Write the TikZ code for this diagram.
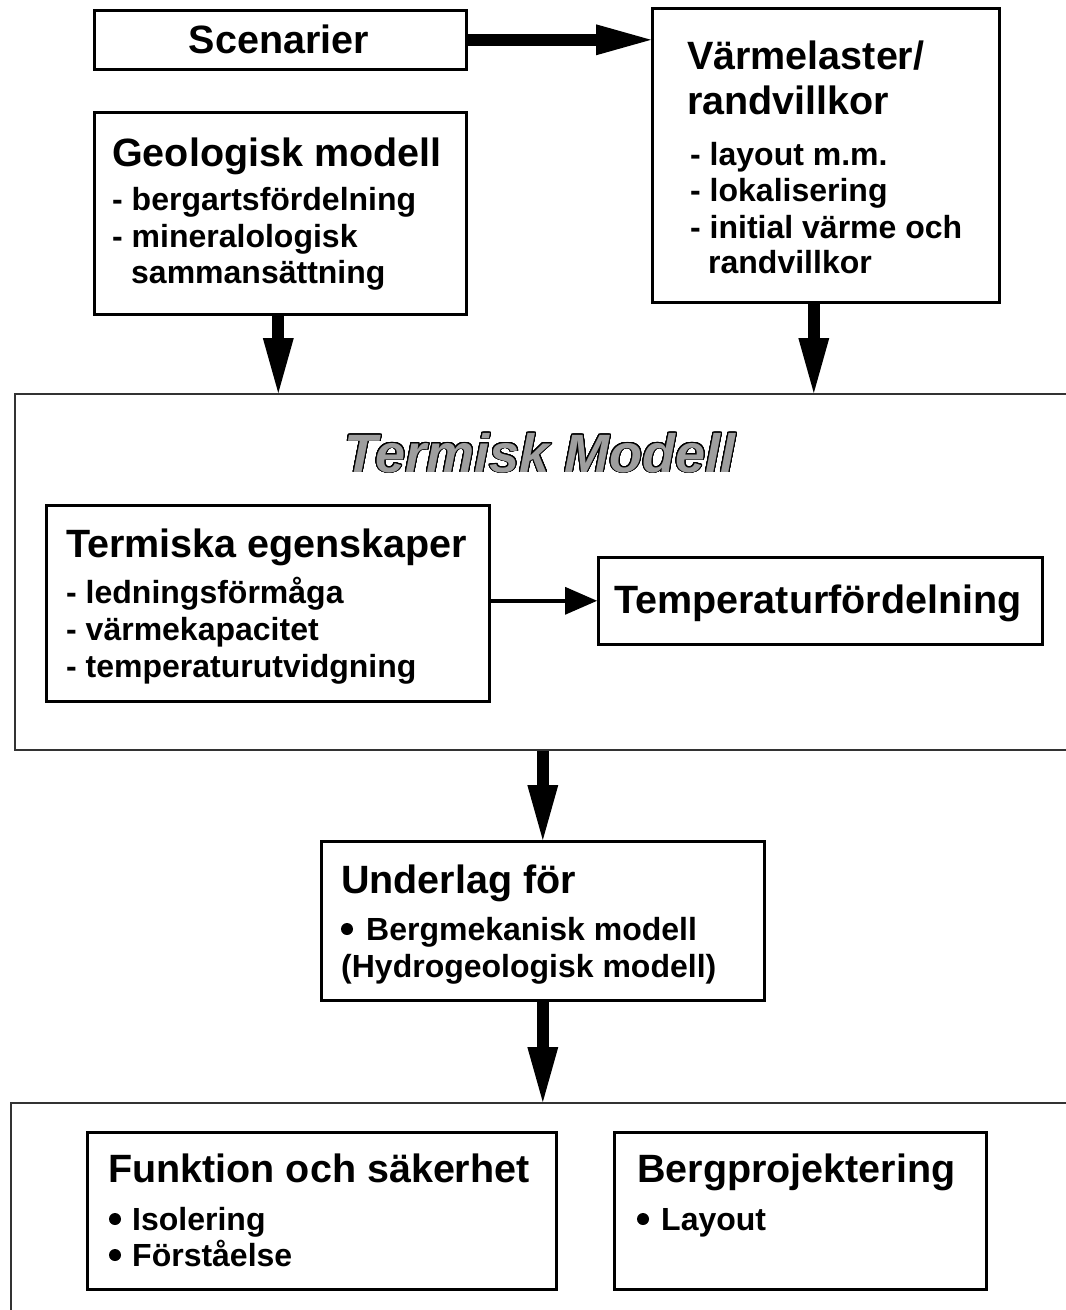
\documentclass[tikz,border=0pt]{standalone}
\usepackage{fontspec}
\setmainfont{Liberation Sans}
\usepackage{contour}
\contournumber{32}
\contourlength{0.85pt}
\usetikzlibrary{arrows.meta}

\tikzset{
  frame/.style={draw=black, line width=2.6pt, fill=white, inner sep=0pt, anchor=north west},
  group/.style={draw=black!80, line width=1.8pt, inner sep=0pt, anchor=north west},
  hd/.style={inner sep=0pt, anchor=base west, font=\fontsize{39.5}{44}\selectfont\bfseries},
  it/.style={inner sep=0pt, anchor=base west, font=\fontsize{32}{37}\selectfont\bfseries},
  dot/.style={fill=black},
  bigarrow/.style={line width=12pt, -{Triangle[length=55pt,width=31pt,line width=0pt]}},
  thinarrow/.style={line width=4pt, -{Triangle[length=32pt,width=28pt,line width=0pt]}},
}

\begin{document}
\begin{tikzpicture}[x=1pt,y=-1pt]
\useasboundingbox (0,0) rectangle (1066,1310);

% open group frames
\node[group, minimum width=1100pt, minimum height=356pt] (term) at (14,393) {};
\node[group, minimum width=1100pt, minimum height=260pt] (lower) at (10,1102) {};

% boxes
\node[frame, minimum width=372pt, minimum height=59pt]  (scen)   at (93,9) {};
\node[frame, minimum width=372pt, minimum height=202pt] (geo)    at (93,111) {};
\node[frame, minimum width=347pt, minimum height=294pt] (varme)  at (651,7) {};
\node[frame, minimum width=443pt, minimum height=196pt] (egensk) at (45,504) {};
\node[frame, minimum width=444pt, minimum height=87pt]  (temp)   at (597,556) {};
\node[frame, minimum width=443pt, minimum height=159pt] (under)  at (320,840) {};
\node[frame, minimum width=469pt, minimum height=157pt] (funk)   at (86,1131) {};
\node[frame, minimum width=372pt, minimum height=157pt] (berg)   at (613,1131) {};

% connectors
\draw[bigarrow] (scen.east) -- (scen.east -| varme.west);
\draw[bigarrow] ([xshift=-2pt]geo.south) -- ([xshift=-2pt]geo.south |- term.north);
\draw[bigarrow] ([xshift=-12pt]varme.south) -- ([xshift=-12pt]varme.south |- term.north);
\draw[thinarrow] (temp.west -| egensk.east) -- (temp.west);
\draw[bigarrow] (term.south -| under.north) -- (under.north);
\draw[bigarrow] (under.south) -- (under.south |- lower.north);

% group title: grey letters with a thin black outline
\node[inner sep=0pt, anchor=base, text=black!38, font=\fontsize{54}{60}\selectfont\bfseries\itshape] (termtitle) at (540,472)
  {\contour{black}{Termisk Modell}};

% texts
\node[hd, anchor=base] (scenT) at (279,53) {Scenarier};

\node[hd] (geoT)  at (112,166) {Geologisk modell};
\node[it] (geoA)  at (112,210) {- bergartsfördelning};
\node[it] (geoB)  at (112,247) {- mineralologisk};
\node[it] (geoC)  at (131,283) {sammansättning};

\node[hd] (varT1) at (687,69) {Värmelaster/};
\node[hd] (varT2) at (687,114) {randvillkor};
\node[it] (varA)  at (690,165) {- layout m.m.};
\node[it] (varB)  at (690,201) {- lokalisering};
\node[it] (varC)  at (690,238) {- initial värme och};
\node[it] (varD)  at (708,273) {randvillkor};

\node[hd] (egT)   at (66,557) {Termiska egenskaper};
\node[it] (egA)   at (66,603) {- ledningsförmåga};
\node[it] (egB)   at (66,640) {- värmekapacitet};
\node[it] (egC)   at (66,677) {- temperaturutvidgning};

\node[hd] (tempT) at (614,613) {Temperaturfördelning};

\node[hd] (undT)  at (341,893) {Underlag för};
\fill[dot] (347,929) circle (6);
\node[it] (undA)  at (366,940) {Bergmekanisk modell};
\node[it] (undB)  at (341,977) {(Hydrogeologisk modell)};

\node[hd] (funT)  at (108,1182) {Funktion och säkerhet};
\fill[dot] (115,1219) circle (6);
\node[it] (funA)  at (132,1230) {Isolering};
\fill[dot] (115,1255) circle (6);
\node[it] (funB)  at (132,1266) {Förståelse};

\node[hd] (bergT) at (637,1182) {Bergprojektering};
\fill[dot] (643,1219) circle (6);
\node[it] (bergA) at (661,1230) {Layout};
\end{tikzpicture}
\end{document}
